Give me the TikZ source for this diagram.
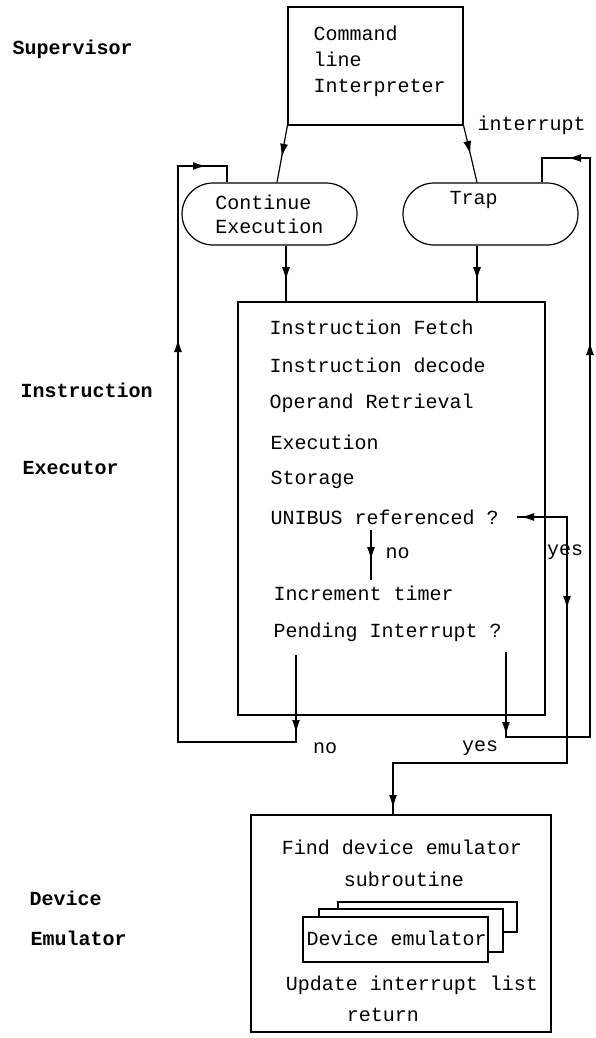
\documentclass[tikz,border=0pt]{standalone}
\usepackage{fontspec}
\setmonofont{Liberation Mono}
\usetikzlibrary{shapes.misc, arrows.meta, positioning, decorations.markings}

\begin{document}
\begin{tikzpicture}[
        x=1pt, y=-1pt,
        line width=1.2pt,
        every node/.style={font=\ttfamily\fontsize{20}{24}\selectfont},
        box/.style={rectangle, draw, line width=1.2pt, inner sep=0pt},
        stadium/.style={rounded rectangle, draw, line width=1.2pt, minimum width=175pt, minimum height=62pt, inner sep=0pt, align=left},
        txt/.style={anchor=west, inner sep=0pt},
        side/.style={anchor=west, inner sep=0pt, font=\ttfamily\bfseries\fontsize{20}{24}\selectfont},
        tip/.style={postaction={decoration={markings, mark=at position #1 with {\arrow{Latex[length=13pt,width=8pt]}}}, decorate}},
        backtip/.style={postaction={decoration={markings, mark=at position #1 with {\arrowreversed{Latex[length=13pt,width=8pt]}}}, decorate}}
    ]
        \useasboundingbox (0,0) rectangle (595,1038);

        % Side labels
        \node[side] (supervisor) at (12,49) {Supervisor};
        \node[side] (instr) at (20,390) {Instruction};
        \node[side] (executor) at (22,468) {Executor};
        \node[side] (device) at (29,898) {Device};
        \node[side] (emulator) at (30,938) {Emulator};

        % Supervisor
        \node[box, minimum width=175pt, minimum height=118pt] (cmd) at (375.5,66) {};
        \node[txt, align=left, font=\ttfamily\fontsize{20}{26}\selectfont] (cmdtext) at (313,61) {Command\\line\\Interpreter};
        \node[txt] (interrupt) at (477,125) {interrupt};
        \node[stadium] (cont) at (269.5,214) {Continue\\Execution};
        \node[stadium, label={[xshift=-17pt, yshift=14pt]center:Trap}] (trap) at (490.5,214) {};

        % Instruction executor
        \node[box, minimum width=307pt, minimum height=413pt] (exec) at (391.5,508.5) {};
        \node[txt] (fetch) at (269,327) {Instruction Fetch};
        \node[txt] (decode) at (269,365) {Instruction decode};
        \node[txt] (operand) at (269,403) {Operand Retrieval};
        \node[txt] (execution) at (270,442) {Execution};
        \node[txt] (storage) at (270,480) {Storage};
        \node[txt] (unibus) at (270,517) {UNIBUS referenced ?};
        \node[txt] (nolabel) at (385,553) {no};
        \node[txt] (incr) at (273,593) {Increment timer};
        \node[txt] (pending) at (273,632) {Pending Interrupt ?};
        \node (yeslabel) at (565,552) {yes};
        \node (no) at (325,748) {no};
        \node (yes) at (480,748) {yes};

        % Device emulator
        \node[box, minimum width=300pt, minimum height=217pt] (devbox) at (401,923.5) {};
        \node (find) at (402,847) {Find device emulator};
        \node (subr) at (404,879) {subroutine};
        \draw (338,910) -- (338,902) -- (517,902) -- (517,932) -- (503,932);
        \draw (319,917) -- (319,909) -- (503,909) -- (503,952) -- (488,952);
        \node[box, fill=white, minimum width=185pt, minimum height=45pt] (emu) at (395.5,939.5) {};
        \node[txt] (emutext) at (306,938) {Device emulator};
        \node (update) at (412,985) {Update interrupt list};
        \node (return) at (383,1015) {return};

        % Coordinates
        \coordinate (notop) at (371,530);
        \coordinate (nobot) at (371,580);
        \coordinate (pno) at (296,655);
        \coordinate (pyes) at (506,652);
        \coordinate (qmark) at (517,517);
        \coordinate (bend) at (393,763);

        % Arrows
        \draw[tip=0.55] (cmd.south west) -- ([xshift=7.5pt]cont.north);
        \draw[tip=0.5] (cmd.south east) -- ([xshift=-13.5pt]trap.north);
        \draw[tip=0.62] ([xshift=16.5pt]cont.south) -- ([xshift=16.5pt]cont.south |- exec.north);
        \draw[tip=0.62] ([xshift=-13.5pt]trap.south) -- ([xshift=-13.5pt]trap.south |- exec.north);
        \draw[tip=0.6] (notop) -- (nobot);

        % Loops
        \draw[tip=78pt, tip=608pt, tip=809pt] (pno) -- (296,742) -- (178,742) -- (178,166) -- (227,166) -- ([xshift=-42.5pt]cont.north);
        \draw[tip=83pt, tip=564pt, tip=770pt] (pyes) -- (506,737) -- (590,737) -- (590,158) -- (542,158) -- ([xshift=51.5pt]trap.north);
        \draw[backtip=4pt, tip=142pt, tip=515pt] (qmark) -- (567,517) -- (567,763) -- (bend) -- (bend |- devbox.north);
    \end{tikzpicture}
\end{document}
